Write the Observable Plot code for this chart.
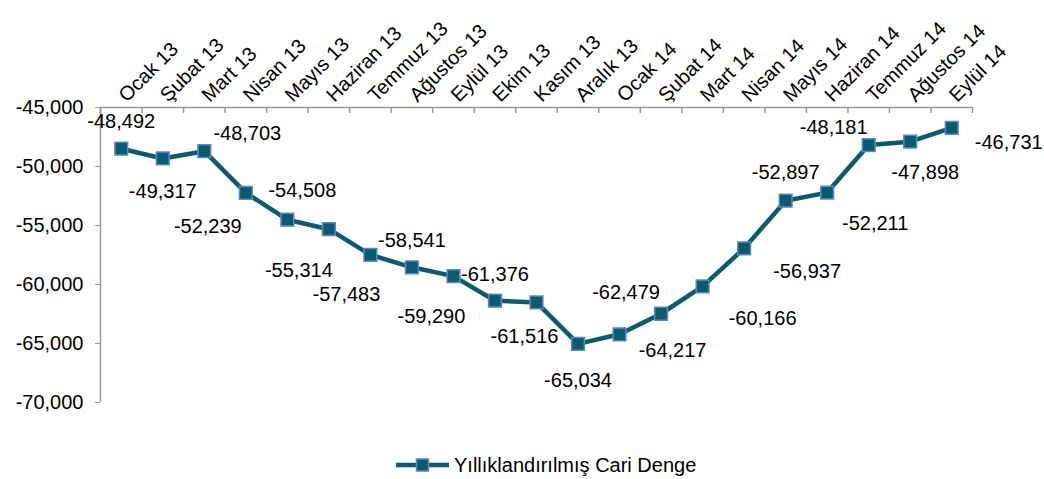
<!DOCTYPE html>
<html>
<head>
<meta charset="utf-8">
<script src="https://cdn.jsdelivr.net/npm/d3@7"></script>
<script src="https://cdn.jsdelivr.net/npm/@observablehq/plot@0.6"></script>
<style>
  html, body { margin: 0; padding: 0; background: #fff; }
  body { font-family: "Liberation Sans", Arial, sans-serif; width: 1044px; height: 479px; overflow: hidden; }
  #legend { display: flex; align-items: center; margin-top: 25px; padding-left: 395px; font-size: 20px; color: #000; height: 20px; }
  #legend svg { margin-right: 3px; }
</style>
</head>
<body>
<div id="chart"></div>
<div id="legend"></div>
<script>
const months = ["Ocak 13","Şubat 13","Mart 13","Nisan 13","Mayıs 13","Haziran 13","Temmuz 13","Ağustos 13","Eylül 13","Ekim 13","Kasım 13","Aralık 13","Ocak 14","Şubat 14","Mart 14","Nisan 14","Mayıs 14","Haziran 14","Temmuz 14","Ağustos 14","Eylül 14"];
const values = [-48492,-49317,-48703,-52239,-54508,-55314,-57483,-58541,-59290,-61376,-61516,-65034,-64217,-62479,-60166,-56937,-52897,-52211,-48181,-47898,-46731];
const yTicks = [-70000,-65000,-60000,-55000,-50000,-45000];
const seriesName = "Yıllıklandırılmış Cari Denge";
// label placement offsets in pixels [dx, dy] (label centre relative to point)
const labelOffsets = [[0,-27],[0,33],[43,-18],[-38,34],[15,-29],[-30,41],[-24,40],[0,-27],[-22,40],[0,-26],[-12,34],[0,37],[53,16],[-35,-21],[60,32],[63,23],[0,-28],[48,31],[-35,-17],[15,31],[57,15]];

const fmt = d3.formatLocale({decimal: ".", thousands: ",", grouping: [3], currency: ["", ""], minus: "-"}).format(",");
const data = months.map((m, i) => ({month: m, xi: i + 0.5, value: values[i]}));
const boundaries = d3.range(0, months.length + 1);

const lineColor = "#0B5A6E";
const markerFill = "#0B5A6E";
const markerStroke = "#5A8AC6";
const axisColor = "#999";

const labelMarks = data.map((d, i) => Plot.text([d], {
  x: "xi", y: "value", text: d => fmt(d.value),
  dx: labelOffsets[i][0], dy: labelOffsets[i][1],
  textAnchor: "middle", lineAnchor: "middle", fill: "#000", fontSize: 20
}));

const chart = Plot.plot({
  width: 1044,
  height: 430,
  marginLeft: 100,
  marginRight: 72,
  marginTop: 107,
  marginBottom: 28,
  style: {fontFamily: '"Liberation Sans", Arial, sans-serif', fontSize: "20px", background: "#fff", color: "#000", overflow: "visible"},
  x: {type: "linear", domain: [0, months.length], axis: null},
  y: {domain: [-70000, -45000], axis: null},
  marks: [
    Plot.axisY({ticks: yTicks, tickSize: 5, tickPadding: 12, tickFormat: fmt, label: null, stroke: axisColor, fill: "#000", fontSize: 20}),
    Plot.ruleX([0], {stroke: axisColor, strokeWidth: 1.5}),
    Plot.ruleY([-45000], {stroke: axisColor, strokeWidth: 1.5}),
    Plot.ruleX(boundaries, {x: d => d, y1: () => -45000, y2: () => -45000, insetBottom: -6, stroke: axisColor, strokeWidth: 1.5}),
    Plot.text(data, {x: "xi", text: "month", frameAnchor: "top", dx: 1, dy: -9, rotate: -45, textAnchor: "start", lineAnchor: "middle", fill: "#000", fontSize: 20}),
    Plot.line(data, {x: "xi", y: "value", stroke: lineColor, strokeWidth: 4.5}),
    Plot.dot(data, {x: "xi", y: "value", symbol: "square", r: 7.2, fill: markerFill, stroke: markerStroke, strokeWidth: 1.5}),
    ...labelMarks
  ]
});
document.getElementById("chart").appendChild(chart);

document.getElementById("legend").innerHTML =
  `<svg width="56" height="20"><line x1="1" y1="10" x2="54" y2="10" stroke="${lineColor}" stroke-width="4.5"/><rect x="21.5" y="4" width="12" height="12" fill="${markerFill}" stroke="${markerStroke}" stroke-width="1.5"/></svg><span>${seriesName}</span>`;
</script>
</body>
</html>
